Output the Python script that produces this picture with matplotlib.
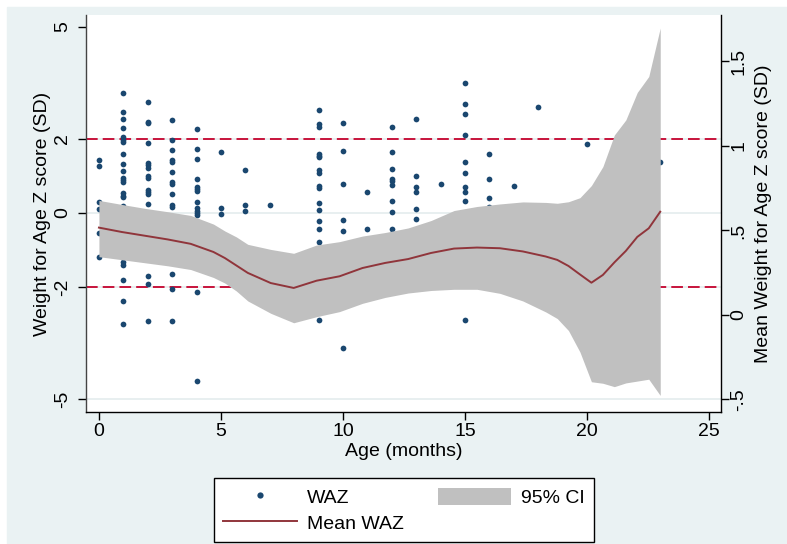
"""
WAZ by age: scatter of individual z scores, lpoly mean with 95% CI on a second axis.
"""
import matplotlib; matplotlib.use('Agg')
import matplotlib.pyplot as plt
import matplotlib.patches as mpatches
from matplotlib.lines import Line2D

plt.rcParams['font.family'] = ['Liberation Sans', 'DejaVu Sans']

NAVY   = '#1a476f'
MAROON = '#90353b'
BAND   = '#c0c0c0'
RED    = '#c8143c'
BGCOL  = '#eaf2f3'
GRID   = '#e4ecee'

# ── individual WAZ observations (age in months, z score) ─────────────────────
age = ([0]*6 +
       [1]*22 +
       [2]*16 +
       [3]*14 +
       [4]*14 +
       [5]*3 + [6]*3 + [7] +
       [9]*16 +
       [10]*6 + [11]*2 +
       [12]*9 + [13]*6 + [14] +
       [15]*10 + [16]*4 + [17] + [18] + [20] + [23])
waz = ([1.43, 1.25, 0.30, 0.10, -0.54, -1.19] +
       [3.23, 2.70, 2.53, 2.27, 2.03, 1.96, 1.92, 1.58, 1.31, 1.14, 0.93,
        0.89, 0.83, 0.53, 0.46, 0.42, 0.19, -1.33, -1.41, -1.80, -2.37, -2.98] +
       [2.97, 2.45, 2.41, 1.88, 1.35, 1.28, 1.20, 1.00, 0.95, 0.62, 0.56,
        0.51, 0.25, -1.69, -1.91, -2.90] +
       [2.49, 1.96, 1.70, 1.42, 1.38, 1.10, 0.83, 0.78, 0.52, 0.21, 0.15,
        -1.65, -2.05, -2.90] +
       [2.25, 1.73, 1.45, 0.90, 0.71, 0.65, 0.58, 0.30, 0.12, 0.06, 0.01,
        -0.05, -2.12, -4.53] +
       [1.65, 0.12, -0.04] + [1.15, 0.22, 0.06] + [0.22] +
       [2.77, 2.38, 2.32, 1.59, 1.53, 1.50, 1.16, 1.07, 0.73, 0.66, 0.26,
        0.09, -0.23, -0.44, -0.78, -2.87] +
       [2.42, 1.67, 0.79, -0.18, -0.49, -3.62] + [0.55, -0.42] +
       [2.31, 1.64, 1.19, 0.90, 0.86, 0.76, 0.31, 0.03, -0.44] +
       [2.52, 0.98, 0.69, 0.55, 0.10, -0.17] + [0.77] +
       [3.49, 2.92, 2.65, 2.10, 1.37, 1.08, 0.71, 0.57, 0.31, -2.89] +
       [1.59, 0.90, 0.40, 0.17] + [0.73] + [2.84] + [1.86] + [1.37])

# ── smoothed mean WAZ and 95% CI (right axis) ────────────────────────────────
grid_age = [0.00, 0.94, 1.88, 2.82, 3.76, 4.69, 5.16, 5.63, 6.10, 7.04, 7.98,
            8.92, 9.86, 10.80, 11.73, 12.67, 13.61, 14.55, 15.49, 16.43,
            17.37, 18.31, 18.78, 19.24, 19.71, 20.18, 20.65, 21.12, 21.59,
            22.06, 22.53, 23.00]
mean_waz = [0.517, 0.491, 0.469, 0.447, 0.421, 0.373, 0.337, 0.293, 0.249,
            0.189, 0.160, 0.203, 0.229, 0.278, 0.308, 0.331, 0.367, 0.393,
            0.399, 0.395, 0.376, 0.346, 0.326, 0.290, 0.240, 0.191, 0.237,
            0.311, 0.379, 0.462, 0.513, 0.611]
ci_low   = [0.345, 0.327, 0.309, 0.291, 0.269, 0.222, 0.189, 0.142, 0.083,
            0.010, -0.046, -0.010, 0.020, 0.069, 0.104, 0.130, 0.145, 0.152,
            0.152, 0.128, 0.083, 0.018, -0.021, -0.092, -0.219, -0.395,
            -0.404, -0.424, -0.402, -0.391, -0.380, -0.476]
ci_high  = [0.678, 0.654, 0.631, 0.611, 0.589, 0.538, 0.497, 0.462, 0.418,
            0.388, 0.365, 0.414, 0.434, 0.467, 0.488, 0.515, 0.559, 0.618,
            0.642, 0.657, 0.669, 0.666, 0.661, 0.670, 0.694, 0.766, 0.878,
            1.065, 1.154, 1.317, 1.411, 1.698]

CUTOFFS = [2, -2]

XTICKS  = [0, 5, 10, 15, 20, 25]
YTICKS  = [-5, -2, 0, 2, 5]
YLABELS = ['-5', '-2', '0', '2', '5']
Y2TICKS  = [-0.5, 0, 0.5, 1, 1.5]
Y2LABELS = ['-.5', '0', '.5', '1', '1.5']

FS = 14

# ── figure ───────────────────────────────────────────────────────────────────
fig = plt.figure(figsize=(7.87, 5.44), dpi=100, facecolor='white')
fig.add_artist(mpatches.Rectangle((7/787, 0), 1 - 7/787, 1 - 7/544,
                                  transform=fig.transFigure, color=BGCOL,
                                  zorder=-10))

ax = fig.add_axes([86/787, 1 - 412/544, 635/787, 397/544])
ax.set_facecolor('white')

for g in YTICKS[:-1]:
    ax.axhline(g, color=GRID, lw=1.2, zorder=0)
for c in CUTOFFS:
    ax.axhline(c, color=RED, lw=1.4, dashes=(6, 2.6), zorder=1)

ax.scatter(age, waz, s=17, color=NAVY, linewidths=0, zorder=2)

ax.set_xlim(-0.53, 25.49)
ax.set_ylim(-5.35, 5.32)
ax.set_xticks(XTICKS)
ax.set_xticklabels([str(t) for t in XTICKS])
ax.set_yticks(YTICKS)
ax.set_yticklabels(YLABELS, rotation=90, va='center')
ax.tick_params(axis='both', labelsize=FS, length=6, width=1, color='black')
ax.tick_params(axis='x', pad=2)
ax.tick_params(axis='y', pad=4.5)
for s in ['top', 'right']:
    ax.spines[s].set_visible(False)
for s in ['left', 'bottom']:
    ax.spines[s].set_linewidth(1)
ax.spines['left'].set_color('#444444')

ax.set_xlabel('Age (months)', fontsize=FS, labelpad=2)
ax.set_ylabel('Weight for Age Z score (SD)', fontsize=FS)
ax.yaxis.set_label_coords(-0.055, 0.5)

# ── right axis: mean and CI ──────────────────────────────────────────────────
ax2 = ax.twinx()
ax2.fill_between(grid_age, ci_low, ci_high, color=BAND, linewidth=0, zorder=1)
ax2.plot(grid_age, mean_waz, color=MAROON, lw=1.4, zorder=2)
ax2.set_ylim(-0.574, 1.775)
ax2.set_yticks(Y2TICKS)
ax2.set_yticklabels(Y2LABELS, rotation=90, va='center')
ax2.tick_params(axis='y', labelsize=FS, length=6, width=1, pad=0.5)
for s in ['top', 'left', 'bottom']:
    ax2.spines[s].set_visible(False)
ax2.spines['right'].set_linewidth(1)
ax2.set_ylabel('Mean Weight for Age Z score (SD)', fontsize=FS)
ax2.yaxis.set_label_coords(1.0528, 0.5)

# ── legend ───────────────────────────────────────────────────────────────────
handles = [
    Line2D([0], [0], ls='none', marker='o', ms=4.5, mew=0, color=NAVY),
    Line2D([0], [0], color=MAROON, lw=1.4),
    mpatches.Patch(facecolor=BAND, edgecolor='none'),
]
labels = ['WAZ', 'Mean WAZ', '95% CI']
leg = fig.legend(handles, labels, ncol=2, loc='lower center',
                 bbox_to_anchor=(404/787, 2/544), fontsize=FS,
                 frameon=True, fancybox=False, shadow=False, framealpha=1,
                 edgecolor='black', handlelength=3.8, handleheight=1.0,
                 handletextpad=0.5, columnspacing=1.75, labelspacing=0.32,
                 borderpad=0.48, borderaxespad=0)
leg.get_frame().set_linewidth(1)

fig.savefig('out.png', dpi=100, facecolor=fig.get_facecolor())
